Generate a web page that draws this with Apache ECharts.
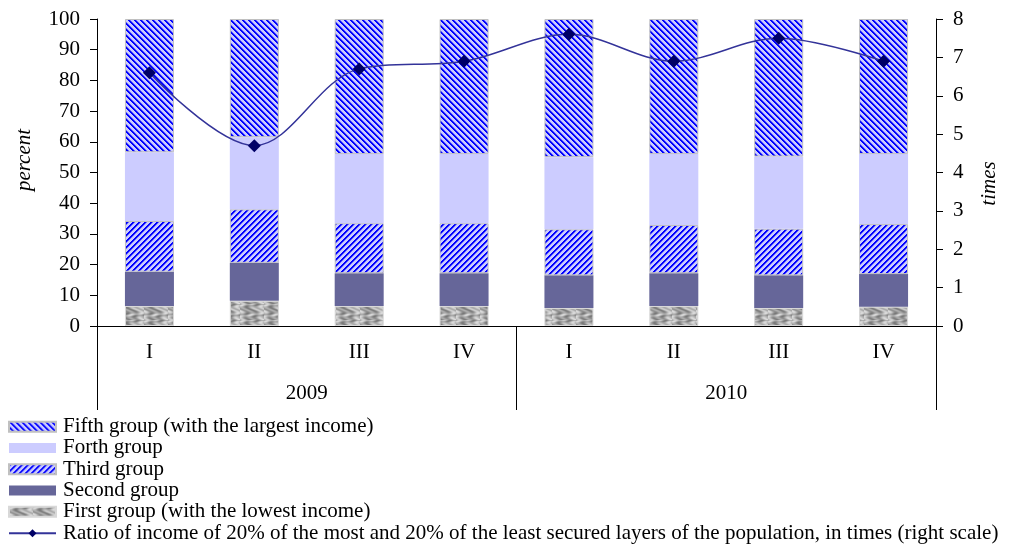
<!DOCTYPE html>
<html>
<head>
<meta charset="utf-8">
<script src="https://cdn.jsdelivr.net/npm/echarts@6/dist/echarts.min.js"></script>
<style>
  html, body { margin: 0; padding: 0; background: #fff; }
  #chart { width: 1014px; height: 544px; }
</style>
</head>
<body>
<div id="chart"></div>
<script>
// Quarters and years
const quarters = ['I', 'II', 'III', 'IV', 'I', 'II', 'III', 'IV'];
const years = ['2009', '2010'];

// Share of total income by quintile group, percent
const firstGroup  = [6.5, 8.2, 6.5, 6.5, 5.9, 6.5, 5.9, 6.3];
const secondGroup = [11.2, 12.4, 10.7, 10.7, 10.6, 10.7, 10.6, 10.6];
const thirdGroup  = [16.5, 17.4, 16.3, 16.3, 15.0, 15.7, 15.2, 16.3];
const forthGroup  = [22.4, 23.5, 22.5, 22.5, 23.5, 23.1, 23.5, 22.8];
const fifthGroup  = [43.4, 38.5, 44.0, 44.0, 45.0, 44.0, 44.8, 44.0];

// Ratio of incomes of the top and bottom 20%, times
const ratio = [6.6, 4.7, 6.7, 6.9, 7.6, 6.9, 7.5, 6.9];

const names = {
  fifth: 'Fifth group (with the largest income)',
  forth: 'Forth group',
  third: 'Third group',
  second: 'Second group',
  first: 'First group (with the lowest income)',
  ratio: 'Ratio of income of 20% of the most and 20% of the least secured layers of the population, in times (right scale)'
};

// Diagonal hatch tile: dir = 1 -> '/', dir = -1 -> '\'
function hatch(dir) {
  const N = 6;
  const c = document.createElement('canvas');
  c.width = N; c.height = N;
  const ctx = c.getContext('2d');
  const img = ctx.createImageData(N, N);
  for (let y = 0; y < N; y++) {
    for (let x = 0; x < N; x++) {
      const d = dir > 0 ? (x + y) % N : ((x - y) % N + N) % N;
      let col;
      if (d < 2) col = [0, 0, 255];
      else if (d === 2) col = [110, 110, 250];
      else col = [204, 204, 255];
      const i = (y * N + x) * 4;
      img.data[i] = col[0]; img.data[i + 1] = col[1]; img.data[i + 2] = col[2]; img.data[i + 3] = 255;
    }
  }
  ctx.putImageData(img, 0, 0);
  return c;
}

// Grey marbled tile for the lowest group
function marble() {
  const W = 24, H = 16;
  const c = document.createElement('canvas');
  c.width = W; c.height = H;
  const ctx = c.getContext('2d');
  const img = ctx.createImageData(W, H);
  for (let y = 0; y < H; y++) {
    for (let x = 0; x < W; x++) {
      const v = Math.sin(x * 0.45 + Math.sin(y * 0.6) * 2.0) * Math.cos(y * 0.5 - x * 0.2);
      const g = Math.round(170 + 50 * v);
      const i = (y * W + x) * 4;
      img.data[i] = g; img.data[i + 1] = g; img.data[i + 2] = g; img.data[i + 3] = 255;
    }
  }
  ctx.putImageData(img, 0, 0);
  return c;
}

const fontFamily = '"Liberation Serif", "Times New Roman", serif';
const fontSize = 21;
const barWidth = 49;

function barSeries(name, data, color, border) {
  return {
    name: name,
    type: 'bar',
    stack: 'total',
    barWidth: barWidth,
    data: data,
    itemStyle: {
      color: color,
      borderColor: border || 'transparent',
      borderWidth: border ? 1 : 0
    },
    emphasis: { disabled: true }
  };
}

const chart = echarts.init(document.getElementById('chart'), null, { renderer: 'canvas' });

chart.setOption({
  animation: false,
  backgroundColor: '#ffffff',
  textStyle: { fontFamily: fontFamily, color: '#000' },
  grid: { left: 97, right: 78, top: 19, bottom: 218 },
  legend: {
    orient: 'vertical',
    left: 8,
    top: 416,
    padding: 0,
    itemWidth: 47,
    itemHeight: 10,
    itemGap: 0,
    textStyle: { fontFamily: fontFamily, fontSize: fontSize, color: '#000', lineHeight: 21.3, padding: [0, 0, 0, 2] },
    data: [
      { name: names.fifth, icon: 'rect' },
      { name: names.forth, icon: 'rect' },
      { name: names.third, icon: 'rect' },
      { name: names.second, icon: 'rect' },
      { name: names.first, icon: 'rect' },
      { name: names.ratio }
    ]
  },
  xAxis: [
    {
      type: 'category',
      data: quarters,
      position: 'bottom',
      axisLine: { show: true, lineStyle: { color: '#000', width: 1 } },
      axisTick: { show: false },
      axisLabel: { fontFamily: fontFamily, fontSize: fontSize, color: '#000', margin: 16 }
    },
    {
      type: 'category',
      data: years,
      position: 'bottom',
      axisLine: { show: false },
      axisTick: { show: true, length: 84, lineStyle: { color: '#000', width: 1 } },
      axisLabel: { fontFamily: fontFamily, fontSize: fontSize, color: '#000', margin: 57 }
    }
  ],
  yAxis: [
    {
      type: 'value',
      min: 0, max: 100, interval: 10,
      position: 'left',
      name: 'percent',
      nameLocation: 'middle',
      nameRotate: 90,
      nameGap: 62,
      nameTextStyle: { fontFamily: fontFamily, fontSize: fontSize, fontStyle: 'italic', color: '#000', padding: [0, 0, 0, 25] },
      axisLine: { show: true, lineStyle: { color: '#000', width: 1 } },
      axisTick: { show: true, length: 7, lineStyle: { color: '#000' } },
      axisLabel: { fontFamily: fontFamily, fontSize: fontSize, color: '#000', margin: 17 },
      splitLine: { show: false }
    },
    {
      type: 'value',
      min: 0, max: 8, interval: 1,
      position: 'right',
      name: 'times',
      nameLocation: 'middle',
      nameRotate: 90,
      nameGap: 43,
      nameTextStyle: { fontFamily: fontFamily, fontSize: fontSize, fontStyle: 'italic', color: '#000', padding: [0, 22, 0, 0] },
      axisLine: { show: true, lineStyle: { color: '#000', width: 1 } },
      axisTick: { show: true, length: 7, lineStyle: { color: '#000' } },
      axisLabel: { fontFamily: fontFamily, fontSize: fontSize, color: '#000', margin: 17 },
      splitLine: { show: false }
    }
  ],
  series: [
    barSeries(names.first, firstGroup, { image: marble(), repeat: 'repeat' }, '#d8d8d8'),
    barSeries(names.second, secondGroup, '#666699'),
    barSeries(names.third, thirdGroup, { image: hatch(1), repeat: 'repeat' }, '#c0c0c0'),
    barSeries(names.forth, forthGroup, '#ccccff'),
    barSeries(names.fifth, fifthGroup, { image: hatch(-1), repeat: 'repeat' }, '#c0c0c0'),
    {
      name: names.ratio,
      type: 'line',
      yAxisIndex: 1,
      data: ratio,
      smooth: 0.35,
      symbol: 'diamond',
      symbolSize: 13,
      z: 5,
      lineStyle: { color: '#333399', width: 1.5 },
      itemStyle: { color: '#000066' },
      emphasis: { disabled: true }
    }
  ]
});
</script>
</body>
</html>
